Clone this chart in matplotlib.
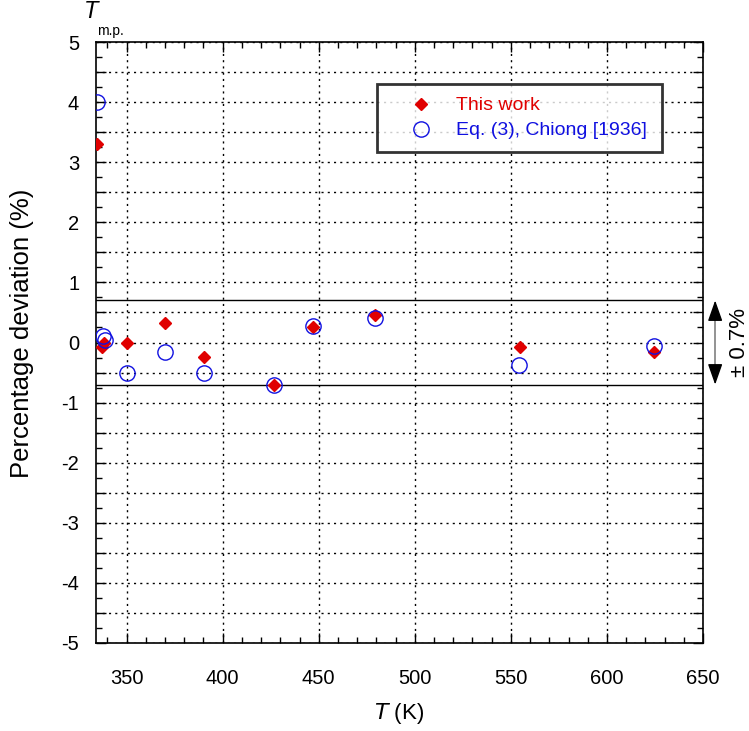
import matplotlib
matplotlib.use("Agg")
import matplotlib.pyplot as plt
from matplotlib.ticker import MultipleLocator, FuncFormatter

plt.rcParams['font.family'] = ['Liberation Sans', 'DejaVu Sans']

# Data
T_this = [334.7, 337.3, 338.3, 350.0, 370.1, 390.3, 426.7, 446.8, 479.1, 554.5, 624.6]
dev_this = [3.30, -0.07, 0.00, 0.00, 0.33, -0.24, -0.70, 0.26, 0.46, -0.07, -0.15]
T_chiong = [334.7, 337.5, 338.5, 350.0, 370.1, 390.3, 426.7, 446.8, 479.1, 554.3, 624.6]
dev_chiong = [4.00, 0.11, 0.04, -0.51, -0.15, -0.51, -0.70, 0.27, 0.40, -0.38, -0.06]
band = 0.7
label_this = "This work"
label_chiong = "Eq. (3), Chiong [1936]"

fig = plt.figure(figsize=(7.49, 7.31), dpi=100)
ax = fig.add_axes([0.128, 0.1204, 0.8106, 0.8221])

ax.set_xlim(334, 650)
ax.set_ylim(-5, 5)

ax.xaxis.set_major_locator(MultipleLocator(50))
ax.xaxis.set_minor_locator(MultipleLocator(10))
ax.yaxis.set_major_locator(MultipleLocator(0.5))
ax.yaxis.set_minor_locator(MultipleLocator(0.25))
ax.yaxis.set_major_formatter(FuncFormatter(
    lambda v, p: f"{int(round(v))}" if abs(v - round(v)) < 1e-6 else ""))

ax.tick_params(which='both', direction='in', top=True, right=True, labelsize=14.5,
               width=1, color='black')
ax.tick_params(which='major', length=7)
ax.tick_params(axis='x', which='major', pad=19)
ax.tick_params(axis='y', which='major', pad=12)
ax.tick_params(which='minor', length=4)
ax.grid(True, which='major', linestyle=(0, (1.5, 3)), color='black', linewidth=1)

for s in ax.spines.values():
    s.set_linewidth(1.2)

ax.axhline(band, color='black', linewidth=1)
ax.axhline(-band, color='black', linewidth=1)

ax.plot(T_this, dev_this, linestyle='none', marker='D', markersize=6,
        color='#e00000', markeredgecolor='#e00000', label=label_this, zorder=4)
ax.plot(T_chiong, dev_chiong, linestyle='none', marker='o', markersize=11,
        markerfacecolor='none', markeredgecolor='#1010e0', markeredgewidth=1,
        label=label_chiong, zorder=5)

leg = ax.legend(loc='upper left', bbox_to_anchor=(0.463, 0.0, 0.469, 0.930),
                mode='expand', fontsize=14,
                frameon=True, fancybox=False, borderpad=0.65, handlelength=3.2,
                handletextpad=0.2, labelspacing=0.38, borderaxespad=0)
leg.get_frame().set_edgecolor('black')
leg.get_frame().set_linewidth(2)
for txt, c in zip(leg.get_texts(), ['#e00000', '#1010e0']):
    txt.set_color(c)

ax.set_ylabel("Percentage deviation (%)", fontsize=18.5)
ax.yaxis.set_label_coords(-0.102, 0.515)
ax.set_xlabel(r"$\it{T}$ (K)", fontsize=16, labelpad=9)

# T_m.p. label
fig.text(0.112, 0.984, "T", fontsize=17, style='italic', ha='left', va='center')
fig.text(0.130, 0.958, "m.p.", fontsize=10, ha='left', va='center')

# ±0.7% arrow: gray shaft with black heads
xa = 1.02
ax.plot([xa, xa], [-band + 0.2, band - 0.2], color='#808080', lw=1.2,
        transform=ax.get_yaxis_transform(), clip_on=False)
for sgn in (1, -1):
    ax.annotate("", xy=(xa, sgn * band), xytext=(xa, sgn * (band - 0.25)),
                xycoords=('axes fraction', 'data'), textcoords=('axes fraction', 'data'),
                arrowprops=dict(arrowstyle='-|>,head_length=0.85,head_width=0.3',
                                color='black', lw=1, mutation_scale=15,
                                shrinkA=0, shrinkB=0),
                annotation_clip=False)
ax.text(1.06, 0.0, "± 0.7%", transform=ax.get_yaxis_transform(), rotation=90,
        ha='center', va='center', fontsize=16, clip_on=False)

fig.savefig("out.png", dpi=100)
